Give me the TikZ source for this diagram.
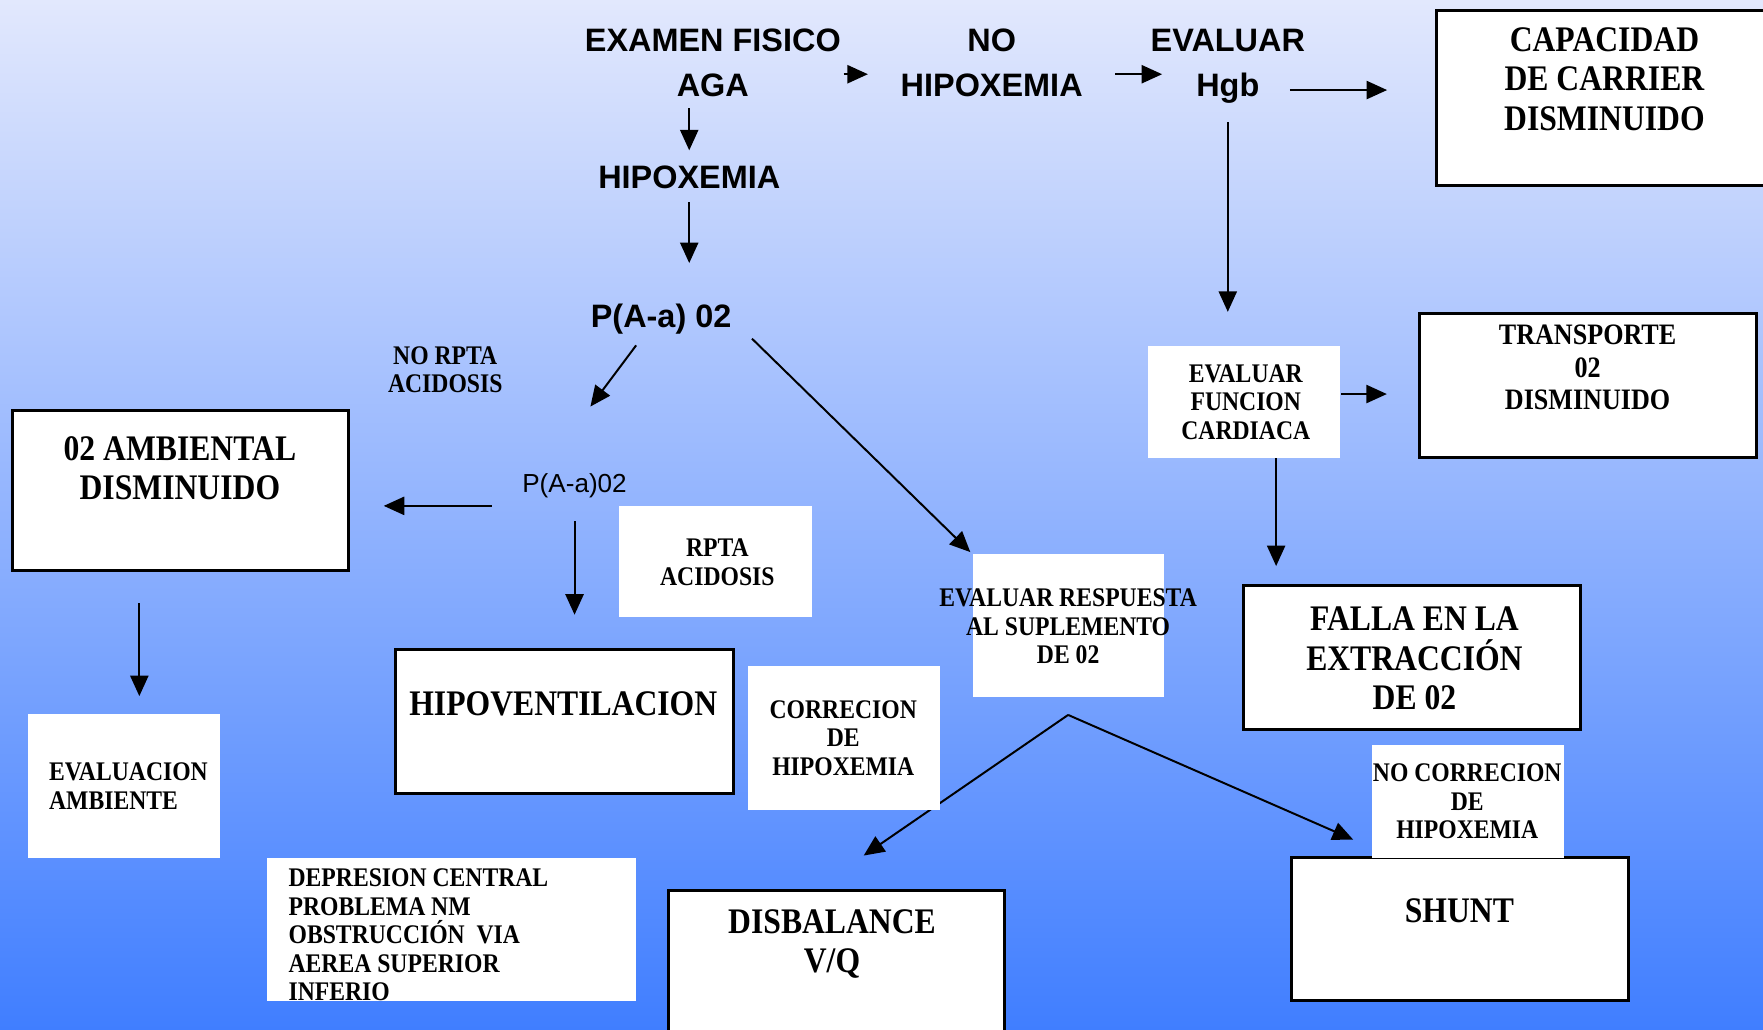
\documentclass[tikz,border=0pt]{standalone}
\usepackage{fontspec}
\setmainfont{Liberation Serif}[FakeStretch=0.88]
\setsansfont{Liberation Sans}
\usetikzlibrary{arrows.meta}
\definecolor{bgtop}{RGB}{226,232,253}
\definecolor{bgbot}{RGB}{64,126,255}

\begin{document}
\begin{tikzpicture}[x=0.01cm,y=-0.01cm,
		hd/.style={inner sep=0pt,align=center,font=\sffamily\bfseries\fontsize{8.2}{11.4}\selectfont},
		big/.style={inner sep=0pt,align=center,font=\bfseries\fontsize{9.1}{10}\selectfont},
		med/.style={inner sep=0pt,align=center,font=\bfseries\fontsize{6.8}{7.2}\selectfont},
		box/.style={draw,fill=white,line width=0.75pt,inner sep=0pt},
		wbox/.style={fill=white,inner sep=0pt},
		arr/.style={line width=0.5pt,-{Triangle[length=5.2pt,width=4.6pt]}}]
				\useasboundingbox (0,0) rectangle (1568,916);
				\clip (0,0) rectangle (1568,916);
				\fill[top color=bgtop,bottom color=bgbot] (0,0) rectangle (1568,916);
				\node[hd] (exam) at (634,56) {EXAMEN FISICO\\AGA};
				\node[hd] (nohip) at (882,56) {NO\\HIPOXEMIA};
				\node[hd] (evhgb) at (1092,59) {EVALUAR\\Hgb};
				\node[hd] (hipox) at (613,158) {HIPOXEMIA};
				\node[hd] (paa) at (588,284) {P(A-a) 02};
				\node[inner sep=0pt,font=\sffamily\fontsize{6.6}{8}\selectfont] (paa2) at (511,432) {P(A-a)02};
				\node[med] (nrpta) at (396,329) {NO RPTA\\ACIDOSIS};
				\node[box,minimum width=3.22cm,minimum height=1.56cm] (capac) at (1439,87) {};
				\node[big] (capacT) at (1427,70.5) {CAPACIDAD\\DE CARRIER\\DISMINUIDO};
				\node[box,minimum width=2.99cm,minimum height=1.28cm] (transp) at (1412.5,343) {};
				\node[inner sep=0pt,align=center,font=\bfseries\fontsize{7.5}{8.25}\selectfont] (transpT) at (1412,327) {TRANSPORTE\\02\\DISMINUIDO};
				\node[wbox,minimum width=1.71cm,minimum height=0.99cm] (evfun) at (1106.5,357.5) {};
				\node[med] (evfunT) at (1108,357.5) {EVALUAR\\FUNCION\\CARDIACA};
				\node[box,minimum width=3cm,minimum height=1.28cm] (falla) at (1256,585) {};
				\node[big] (fallaT) at (1258,585.5) {FALLA EN LA\\EXTRACCIÓN\\DE 02};
				\node[box,minimum width=2.99cm,minimum height=1.27cm] (shunt) at (1298.5,826.5) {};
				\node[big] (shuntT) at (1298,810) {SHUNT};
				\node[wbox,minimum width=1.71cm,minimum height=1cm] (nocorr) at (1305.5,713) {};
				\node[med] (nocorrT) at (1305,713) {NO CORRECION\\DE\\HIPOXEMIA};
				\node[wbox,minimum width=1.7cm,minimum height=1.27cm] (evresp) at (950,556.5) {};
				\node[med] (evrespT) at (950,557) {EVALUAR RESPUESTA\\AL SUPLEMENTO\\DE 02};
				\node[box,minimum width=2.98cm,minimum height=1.4cm] (disb) at (744,862) {};
				\node[big] (disbT) at (740,839.5) {DISBALANCE\\V/Q};
				\node[wbox,minimum width=3.28cm,minimum height=1.27cm] (depr) at (402,826.5) {};
				\node[med,align=left,anchor=west] (deprT) at (256,831.5) {DEPRESION CENTRAL\\PROBLEMA NM\\OBSTRUCCIÓN~ VIA\\AEREA SUPERIOR\\INFERIO};
				\node[box,minimum width=3cm,minimum height=1.28cm] (hipov) at (502,642) {};
				\node[big] (hipovT) at (501,626) {HIPOVENTILACION};
				\node[wbox,minimum width=1.71cm,minimum height=0.99cm] (rpta) at (636.5,499.5) {};
				\node[med] (rptaT) at (638,500) {RPTA\\ACIDOSIS};
				\node[box,minimum width=2.99cm,minimum height=1.42cm] (amb) at (160.5,436) {};
				\node[big] (ambT) at (160,416.5) {02 AMBIENTAL\\DISMINUIDO};
				\node[wbox,minimum width=1.71cm,minimum height=1.28cm] (evamb) at (110.5,699) {};
				\node[med,align=left,anchor=west] (evambT) at (43,699) {EVALUACION\\AMBIENTE};
				\coordinate (fork) at ([yshift=-4.3pt]evresp.south);
				\draw[arr,shorten <=2.6pt,shorten >=3.8pt] (hipox.north |- exam.south) -- (hipox.north);
				\draw[arr,shorten <=3.1pt,shorten >=10.2pt] (hipox.south) -- (hipox.south |- paa.north);
				\draw[arr,shorten <=0.5pt,shorten >=8.1pt] ([yshift=-2.85pt]exam.east) -- ([yshift=-2.85pt]exam.east -| nohip.west);
				\draw[arr,shorten <=8.1pt,shorten >=-3.1pt] ([yshift=-2.85pt]nohip.east) -- ([yshift=-2.85pt]nohip.east -| evhgb.west);
				\draw[arr,shorten <=-4pt,shorten >=12.2pt] ([yshift=-6pt]evhgb.east) -- ([yshift=-6pt]evhgb.east -| capac.west);
				\draw[arr,shorten <=4.6pt,shorten >=8.5pt] (evhgb.south) -- (evhgb.south |- evfun.north);
				\draw[arr,shorten >=8pt] ([yshift=2pt]evfun.east) -- ([yshift=2pt]evfun.east -| transp.west);
				\draw[arr,shorten >=4.6pt] ([xshift=8.1pt]evfun.south) -- ([xshift=8.1pt]evfun.south |- falla.north);
				\draw[arr,shorten <=3.2pt,shorten >=20.9pt] ([xshift=-4.4pt]paa.south) -- ([xshift=-8.5pt]paa2.north);
				\draw[arr,shorten <=7pt,shorten >=0.5pt] (paa.east) -- (evresp.north west);
				\draw[arr,shorten >=14.9pt] (fork) -- ([xshift=-5.4pt]disb.north);
				\draw[arr,shorten >=10.6pt] (fork) -- ([xshift=25.6pt]shunt.north west);
				\draw[arr,shorten <=7.5pt,shorten >=8.5pt] ([yshift=-5.1pt]paa2.west) -- ([yshift=-5.1pt]paa2.west -| amb.east);
				\draw[arr,shorten <=5.7pt,shorten >=8.5pt] (paa2.south) -- (paa2.south |- hipov.north);
				\draw[arr,shorten <=8pt,shorten >=4.3pt] ([xshift=-10.4pt]amb.south) -- ([xshift=-10.4pt]amb.south |- evamb.north);
				\node[wbox,minimum width=1.71cm,minimum height=1.28cm] (corr) at (750.5,656) {};
				\node[med] (corrT) at (750,656.5) {CORRECION\\DE\\HIPOXEMIA};
			\end{tikzpicture}
\end{document}
